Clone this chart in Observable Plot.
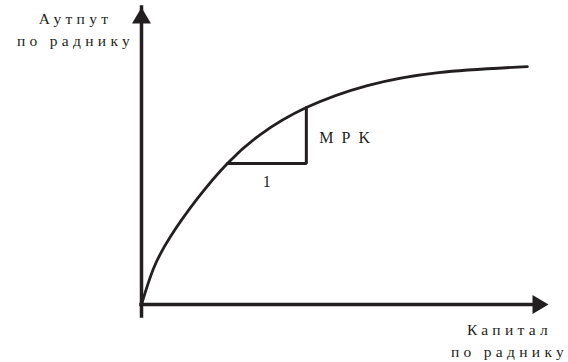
<!DOCTYPE html>
<html>
<head>
<meta charset="utf-8">
<script src="https://cdn.jsdelivr.net/npm/d3@7"></script>
<script src="https://cdn.jsdelivr.net/npm/@observablehq/plot@0.6"></script>
<style>
  html, body { margin: 0; padding: 0; background: #fff; }
</style>
</head>
<body>
<div id="chart"></div>
<script>
// Production function: capital per worker -> output per worker (arbitrary units)
const capital = [0, 2.95, 7.13, 13.76, 21.1, 29.2, 40.5, 55.5, 73.0, 94.8];
const output  = [0, 12.1, 22.9, 35.7, 47.5, 57.2, 66.3, 73.7, 78.1, 80.1];

// MPK triangle: run of 1 unit of capital, rise = MPK
const triCapital = [21.1, 40.5, 40.5];
const triOutput  = [47.5, 47.5, 66.3];

// Axis extents
const axisMax = 100;

// Labels
const yLabel = "Аутпут\nпо раднику";
const xLabel = "Капитал\nпо раднику";
const mpkLabel = "MPK";
const runLabel = "1";

const ink = "#231f20";
const font = "'Times New Roman', 'Liberation Serif', 'DejaVu Serif', serif";

const curveData = capital.map((k, i) => ({k, y: output[i]}));
const triData = triCapital.map((k, i) => ({k, y: triOutput[i]}));

const arrowHead = {
  draw(ctx) {
    ctx.moveTo(0, 0);
    ctx.lineTo(-9.5, 16);
    ctx.lineTo(9.5, 16);
    ctx.closePath();
  }
};

const chart = Plot.plot({
  width: 568,
  height: 362,
  marginLeft: 141,
  marginRight: 20,
  marginTop: 7,
  marginBottom: 58,
  x: {domain: [0, axisMax], axis: null},
  y: {domain: [0, axisMax], axis: null},
  style: {background: "#fff"},
  marks: [
    Plot.ruleX([0], {y1: 0, y2: axisMax, insetTop: 12, stroke: ink, strokeWidth: 3.5, strokeLinecap: "square"}),
    Plot.ruleY([0], {x1: 0, x2: axisMax, insetRight: 12, stroke: ink, strokeWidth: 3.5, strokeLinecap: "square"}),
    Plot.dot([{k: 0, y: axisMax}], {x: "k", y: "y", symbol: arrowHead, fill: ink, stroke: null, r: 5}),
    Plot.dot([{k: axisMax, y: 0}], {x: "k", y: "y", symbol: arrowHead, fill: ink, stroke: null, r: 5, rotate: 90}),
    Plot.line(curveData, {x: "k", y: "y", curve: "natural", stroke: ink, strokeWidth: 2.8}),
    Plot.line(triData, {x: "k", y: "y", curve: "linear", stroke: ink, strokeWidth: 3, strokeLinejoin: "miter"}),
    Plot.text([yLabel], {
      x: 0, y: axisMax, text: d => d, textAnchor: "middle", lineAnchor: "bottom",
      dx: -66, dy: 38, lineHeight: 1.42, fontSize: 15.5, fill: ink,
      className: "axis-label"
    }),
    Plot.text([xLabel], {
      x: axisMax, y: 0, text: d => d, textAnchor: "middle", lineAnchor: "bottom",
      dx: -39, dy: 52, lineHeight: 1.42, fontSize: 15.5, fill: ink,
      className: "axis-label"
    }),
    Plot.text([mpkLabel], {
      x: triCapital[2], y: (triOutput[1] + triOutput[2]) / 2, text: d => d,
      textAnchor: "start", lineAnchor: "bottom", dx: 13, dy: 7, fontSize: 16,
      fill: ink, className: "mpk-label"
    }),
    Plot.text([runLabel], {
      x: (triCapital[0] + triCapital[1]) / 2, y: triOutput[0], text: d => d,
      textAnchor: "middle", lineAnchor: "bottom", dy: 24, fontSize: 16,
      fill: ink, className: "run-label"
    })
  ]
});

document.getElementById("chart").appendChild(chart);

// Serif (where available), letter-spaced labels as in the reference
d3.select(chart).style("font-family", font);
d3.select(chart).selectAll("g").attr("font-family", null);
d3.select(chart).selectAll("text").style("font-family", font);
d3.select(chart).selectAll(".axis-label text").style("letter-spacing", "4.3px");
d3.select(chart).selectAll(".mpk-label text").style("letter-spacing", "8px");
</script>
</body>
</html>
